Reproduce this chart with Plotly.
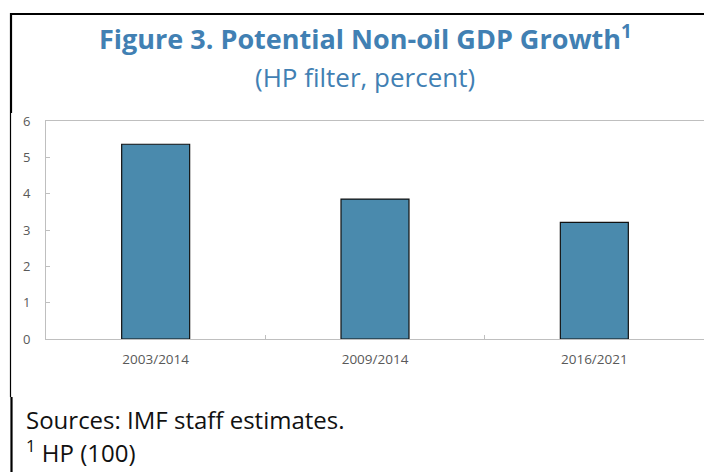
import plotly.graph_objects as go

categories = ["2003/2014", "2009/2014", "2016/2021"]
growth = [5.36, 3.85, 3.21]
y_ticks = [0, 1, 2, 3, 4, 5, 6]

W, H = 704, 472
L, R, T, B = 46, 0, 121, 133
pw = W - L - R
ph = H - T - B

def px(x):
    return (x - L) / pw

def py(y):
    return (H - B - y) / ph

fig = go.Figure()
fig.add_trace(go.Bar(
    x=categories, y=growth,
    marker=dict(color="#4a8aad", line=dict(color="#111111", width=1.2)),
    width=0.31,
))

font_family = "Open Sans"
axis_col = "#bfbfbf"
lab_col = "#595959"

fig.update_layout(
    width=W, height=H,
    margin=dict(l=L, r=R, t=T, b=B),
    paper_bgcolor="white", plot_bgcolor="white",
    showlegend=False,
    font=dict(family=font_family),
    xaxis=dict(
        showline=True, linecolor=axis_col, linewidth=1, mirror=True,
        ticks="inside", tickson="boundaries", ticklen=4, tickcolor=axis_col,
        tickfont=dict(size=13.5, color=lab_col), ticklabelstandoff=8,
        showgrid=False, zeroline=False,
    ),
    yaxis=dict(
        range=[0, 6], tickvals=y_ticks,
        showline=True, linecolor=axis_col, linewidth=1, mirror=True,
        ticks="inside", ticklen=4, tickcolor=axis_col,
        tickfont=dict(size=13, color=lab_col), ticklabelstandoff=12,
        showgrid=False, zeroline=False,
    ),
)

# frame lines
blk = "#000000"
fig.add_shape(type="line", xref="paper", yref="paper", x0=px(10), x1=px(704), y0=py(14), y1=py(14),
              line=dict(color=blk, width=2.2))
fig.add_shape(type="line", xref="paper", yref="paper", x0=px(11), x1=px(11), y0=py(13), y1=py(113),
              line=dict(color=blk, width=2.2))
fig.add_shape(type="line", xref="paper", yref="paper", x0=px(10.5), x1=px(10.5), y0=py(113), y1=py(397),
              line=dict(color=blk, width=1.2))
fig.add_shape(type="line", xref="paper", yref="paper", x0=px(11.5), x1=px(11.5), y0=py(397), y1=py(472),
              line=dict(color=blk, width=2.2))

title_col = "#4180b3"
fig.add_annotation(xref="paper", yref="paper", x=px(365), y=py(37), xanchor="center", yanchor="middle",
                   text="<b>Figure 3. Potential Non-oil GDP Growth<sup>1</sup></b>", showarrow=False,
                   font=dict(family=font_family, size=27, color=title_col))
fig.add_annotation(xref="paper", yref="paper", x=px(365), y=py(77), xanchor="center", yanchor="middle",
                   text="(HP filter, percent)", showarrow=False,
                   font=dict(family=font_family, size=26, color=title_col))
fig.add_annotation(xref="paper", yref="paper", x=px(24), y=py(419), xanchor="left", yanchor="middle",
                   text="Sources: IMF staff estimates.", showarrow=False,
                   font=dict(family=font_family, size=24, color="#111111"))
fig.add_annotation(xref="paper", yref="paper", x=px(24), y=py(471), xanchor="left", yanchor="bottom",
                   text="<sup>1</sup> HP (100)", showarrow=False,
                   font=dict(family=font_family, size=24, color="#111111"))

fig.write_html("out.html", config={"displayModeBar": False},
               post_script="document.body.style.margin='0';document.body.style.overflow='hidden';")
